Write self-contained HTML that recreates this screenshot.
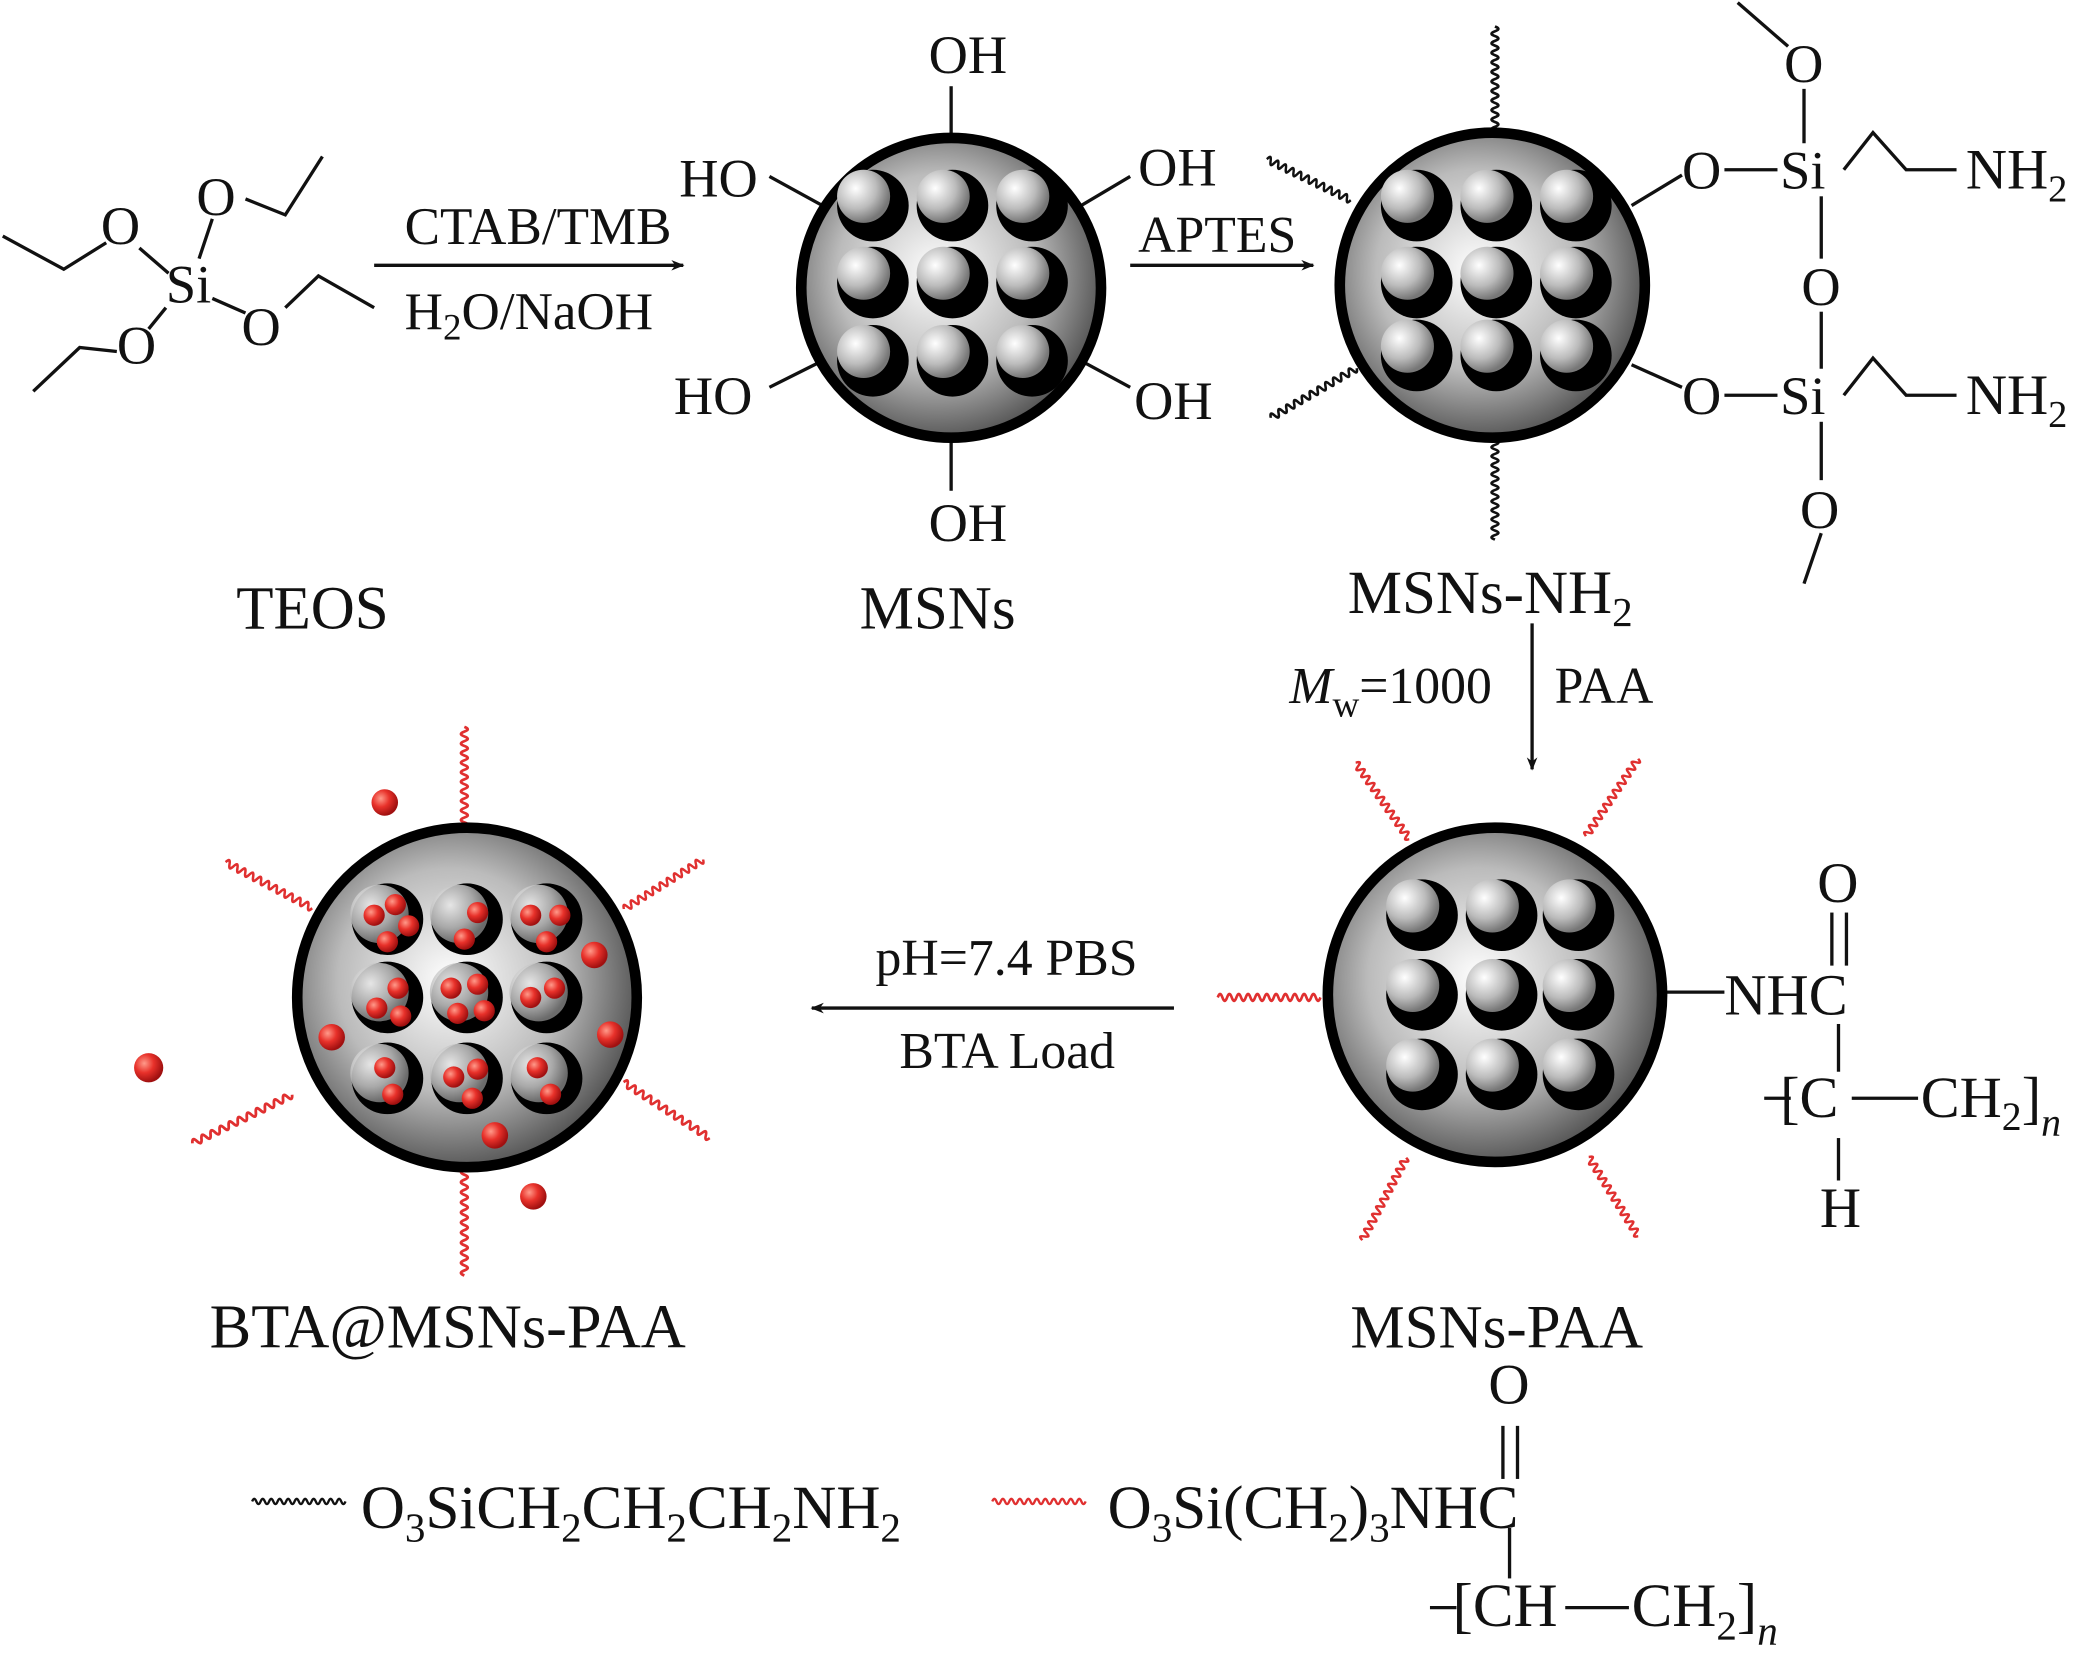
<!DOCTYPE html>
<html><head><meta charset="utf-8"><style>
html,body{margin:0;padding:0;background:#fff}
svg{display:block}
text{font-family:"Liberation Serif",serif;fill:#111}
</style></head><body>
<svg width="2080" height="1658" viewBox="0 0 1568 1250" xmlns="http://www.w3.org/2000/svg">
<defs>
<radialGradient id="sph" cx="45%" cy="45%" r="60%"><stop offset="0" stop-color="#fff"/><stop offset="0.55" stop-color="#bbb"/><stop offset="1" stop-color="#444"/></radialGradient>
<radialGradient id="ball" cx="35%" cy="35%" r="65%"><stop offset="0" stop-color="#fff"/><stop offset="0.6" stop-color="#bbb"/><stop offset="1" stop-color="#777"/></radialGradient>
<radialGradient id="red" cx="35%" cy="35%" r="65%"><stop offset="0" stop-color="#ff9a8a"/><stop offset="0.5" stop-color="#e8312a"/><stop offset="1" stop-color="#a01010"/></radialGradient>
<marker id="ar" viewBox="0 0 10 10" refX="9" refY="5" markerWidth="10" markerHeight="10" orient="auto" markerUnits="userSpaceOnUse"><path d="M0,1 L10,5 L0,9 L3,5z" fill="#111"/></marker>
<path id="w" d="M0 0 q2 -5 4 0 q2 5 4 0 q2 -5 4 0 q2 5 4 0 q2 -5 4 0 q2 5 4 0 q2 -5 4 0 q2 5 4 0 q2 -5 4 0 q2 5 4 0 q2 -5 4 0 q2 5 4 0 q2 -5 4 0 q2 5 4 0 q2 -5 4 0 q2 5 4 0 q2 -5 4 0 q2 5 4 0 q2 -5 4 0 q2 5 4 0 q2 -5 4 0 q2 5 4 0" fill="none" stroke-width="2.2"/>
<g id="pore"><circle r="27" fill="#000"/><circle cx="-7" cy="-7" r="20" fill="url(#ball)"/></g>
<g id="poreB"><circle r="27" fill="#000"/><circle cx="-6" cy="-4" r="22" fill="url(#ball)" opacity="0.9"/></g>
<circle id="rb" r="8" fill="url(#red)"/>
</defs>
<g stroke="#111" stroke-width="2.5" fill="none">
<path d="M2 178 L48 203 L80 183"/><path d="M105 187 L127 206"/>
<path d="M160 165 L150 195"/><path d="M185 150 L215 162 L243 118"/>
<path d="M160 225 L185 236"/><path d="M215 232 L240 208 L282 232"/>
<path d="M125 232 L112 248"/><path d="M88 265 L60 262 L25 295"/>
<line x1="282" y1="200" x2="515" y2="200" marker-end="url(#ar)"/>
<line x1="852" y1="200" x2="990" y2="200" marker-end="url(#ar)"/>
<line x1="1155" y1="470" x2="1155" y2="580" marker-end="url(#ar)"/>
<line x1="885" y1="760" x2="612" y2="760" marker-end="url(#ar)"/>
<line x1="717" y1="65" x2="717" y2="102"/><line x1="717" y1="332" x2="717" y2="370"/>
<line x1="580" y1="133" x2="620" y2="155"/><line x1="580" y1="292" x2="620" y2="272"/>
<line x1="852" y1="133" x2="815" y2="155"/><line x1="852" y1="292" x2="815" y2="272"/>
<path d="M1230 155 L1268 132"/><path d="M1230 275 L1268 292"/>
<line x1="1300" y1="128" x2="1340" y2="128"/><line x1="1300" y1="298" x2="1340" y2="298"/>
<path d="M1390 128 L1412 100 L1437 128 L1475 128"/><path d="M1390 298 L1412 270 L1437 298 L1475 298"/>
<line x1="1360" y1="67" x2="1360" y2="108"/><path d="M1310 2 L1348 35"/>
<line x1="1373" y1="148" x2="1373" y2="195"/><line x1="1373" y1="235" x2="1373" y2="278"/>
<line x1="1373" y1="318" x2="1373" y2="362"/><path d="M1373 402 L1360 440"/>
<line x1="1255" y1="748" x2="1300" y2="748"/>
<line x1="1381" y1="688" x2="1381" y2="728"/><line x1="1392" y1="688" x2="1392" y2="728"/>
<line x1="1386" y1="772" x2="1386" y2="808"/><line x1="1386" y1="858" x2="1386" y2="890"/>
<line x1="1330" y1="828" x2="1350" y2="828"/><line x1="1396" y1="828" x2="1446" y2="828"/>
<line x1="1133" y1="1075" x2="1133" y2="1115"/><line x1="1144" y1="1075" x2="1144" y2="1115"/>
<line x1="1138" y1="1152" x2="1138" y2="1190"/>
<line x1="1078" y1="1212" x2="1098" y2="1212"/><line x1="1180" y1="1212" x2="1228" y2="1212"/>
</g>
<g>
<use href="#w" transform="translate(1127,20) rotate(90) scale(0.9,1)" stroke="#111"/>
<use href="#w" transform="translate(1127,332) rotate(90) scale(0.85,1)" stroke="#111"/>
<use href="#w" transform="translate(955,120) rotate(26) scale(0.8,1)" stroke="#111"/>
<use href="#w" transform="translate(958,315) rotate(-30) scale(0.85,1)" stroke="#111"/>
<use href="#w" transform="translate(190,1132) scale(0.8,0.8)" stroke="#111"/>
</g>
<g>
<use href="#w" transform="translate(1022,575) rotate(55) scale(0.8,1)" stroke="#e03030"/>
<use href="#w" transform="translate(1235,572) rotate(124) scale(0.8,1)" stroke="#e03030"/>
<use href="#w" transform="translate(918,752) scale(0.88,1)" stroke="#e03030"/>
<use href="#w" transform="translate(1027,935) rotate(-62) scale(0.8,1)" stroke="#e03030"/>
<use href="#w" transform="translate(1235,932) rotate(-122) scale(0.8,1)" stroke="#e03030"/>
<use href="#w" transform="translate(350,548) rotate(90) scale(0.9,1)" stroke="#e03030"/>
<use href="#w" transform="translate(350,878) rotate(90) scale(0.95,1)" stroke="#e03030"/>
<use href="#w" transform="translate(170,650) rotate(28) scale(0.84,1)" stroke="#e03030"/>
<use href="#w" transform="translate(530,648) rotate(148) scale(0.8,1)" stroke="#e03030"/>
<use href="#w" transform="translate(145,862) rotate(-26) scale(0.95,1)" stroke="#e03030"/>
<use href="#w" transform="translate(535,858) rotate(-147) scale(0.88,1)" stroke="#e03030"/>
<use href="#w" transform="translate(748,1132) scale(0.8,0.8)" stroke="#e03030"/>
</g>
<circle cx="717" cy="217" r="113" fill="url(#sph)" stroke="#000" stroke-width="8"/>
<circle cx="1125" cy="215" r="115" fill="url(#sph)" stroke="#000" stroke-width="8"/>
<circle cx="1127" cy="750" r="126" fill="url(#sph)" stroke="#000" stroke-width="8"/>
<circle cx="352" cy="752" r="128" fill="url(#sph)" stroke="#000" stroke-width="8"/>
<g>
<use href="#pore" x="658" y="155"/><use href="#pore" x="718" y="155"/><use href="#pore" x="778" y="155"/>
<use href="#pore" x="658" y="213"/><use href="#pore" x="718" y="213"/><use href="#pore" x="778" y="213"/>
<use href="#pore" x="658" y="272"/><use href="#pore" x="718" y="272"/><use href="#pore" x="778" y="272"/>
<use href="#pore" x="1068" y="155"/><use href="#pore" x="1128" y="155"/><use href="#pore" x="1188" y="155"/>
<use href="#pore" x="1068" y="213"/><use href="#pore" x="1128" y="213"/><use href="#pore" x="1188" y="213"/>
<use href="#pore" x="1068" y="268"/><use href="#pore" x="1128" y="268"/><use href="#pore" x="1188" y="268"/>
<use href="#pore" x="1072" y="690"/><use href="#pore" x="1132" y="690"/><use href="#pore" x="1190" y="690"/>
<use href="#pore" x="1072" y="750"/><use href="#pore" x="1132" y="750"/><use href="#pore" x="1190" y="750"/>
<use href="#pore" x="1072" y="810"/><use href="#pore" x="1132" y="810"/><use href="#pore" x="1190" y="810"/>
<use href="#poreB" x="292" y="693"/><use href="#poreB" x="352" y="693"/><use href="#poreB" x="412" y="693"/>
<use href="#poreB" x="292" y="752"/><use href="#poreB" x="352" y="752"/><use href="#poreB" x="412" y="752"/>
<use href="#poreB" x="292" y="813"/><use href="#poreB" x="352" y="813"/><use href="#poreB" x="412" y="813"/>
</g>
<g>
<use href="#rb" x="282" y="690"/><use href="#rb" x="298" y="682"/><use href="#rb" x="308" y="698"/><use href="#rb" x="292" y="710"/>
<use href="#rb" x="360" y="688"/><use href="#rb" x="350" y="708"/>
<use href="#rb" x="400" y="690"/><use href="#rb" x="422" y="690"/><use href="#rb" x="412" y="710"/>
<use href="#rb" x="300" y="745"/><use href="#rb" x="284" y="760"/><use href="#rb" x="302" y="766"/>
<use href="#rb" x="340" y="745"/><use href="#rb" x="360" y="742"/><use href="#rb" x="345" y="764"/><use href="#rb" x="365" y="762"/>
<use href="#rb" x="418" y="745"/><use href="#rb" x="400" y="752"/>
<use href="#rb" x="290" y="805"/><use href="#rb" x="296" y="825"/>
<use href="#rb" x="342" y="812"/><use href="#rb" x="360" y="806"/><use href="#rb" x="356" y="828"/>
<use href="#rb" x="405" y="805"/><use href="#rb" x="415" y="825"/>
<circle cx="290" cy="605" r="10" fill="url(#red)"/><circle cx="112" cy="805" r="11" fill="url(#red)"/>
<circle cx="402" cy="902" r="10" fill="url(#red)"/><circle cx="373" cy="856" r="10" fill="url(#red)"/>
<circle cx="460" cy="780" r="10" fill="url(#red)"/><circle cx="448" cy="720" r="10" fill="url(#red)"/>
<circle cx="250" cy="782" r="10" fill="url(#red)"/>
</g>
<g font-size="41">
<text x="76" y="184">O</text><text x="148" y="162">O</text><text x="125" y="228">Si</text>
<text x="182" y="260">O</text><text x="88" y="274">O</text>
<text x="178" y="474" font-size="46">TEOS</text>
<text x="305" y="184" font-size="40">CTAB/TMB</text>
<text x="305" y="248" font-size="40">H<tspan font-size="28" dy="8">2</tspan><tspan dy="-8">O/NaOH</tspan></text>
<text x="700" y="55">OH</text><text x="700" y="408">OH</text>
<text x="512" y="148">HO</text><text x="508" y="312">HO</text>
<text x="858" y="140">OH</text><text x="855" y="316">OH</text>
<text x="648" y="474" font-size="46">MSNs</text>
<text x="858" y="190" font-size="39">APTES</text>
<text x="1268" y="142">O</text><text x="1268" y="312">O</text>
<text x="1342" y="142">Si</text><text x="1342" y="312">Si</text>
<text x="1345" y="62">O</text><text x="1358" y="230">O</text><text x="1357" y="398">O</text>
<text x="1482" y="142" font-size="43">NH<tspan font-size="29" dy="10">2</tspan></text>
<text x="1482" y="312" font-size="43">NH<tspan font-size="29" dy="10">2</tspan></text>
<text x="1016" y="462" font-size="46">MSNs-NH<tspan font-size="31" dy="10">2</tspan></text>
<text x="972" y="530" font-size="39"><tspan font-style="italic">M</tspan><tspan font-size="28" dy="10">w</tspan><tspan dy="-10">=1000</tspan></text>
<text x="1172" y="530" font-size="39">PAA</text>
<text x="1370" y="680" font-size="43">O</text>
<text x="1300" y="765" font-size="44">NHC</text>
<text x="1342" y="842" font-size="44">[C</text>
<text x="1448" y="842" font-size="44">CH<tspan font-size="30" dy="10">2</tspan><tspan dy="-10">]</tspan><tspan font-size="30" font-style="italic" dy="14">n</tspan></text>
<text x="1372" y="925" font-size="43">H</text>
<text x="1018" y="1016" font-size="46">MSNs-PAA</text>
<text x="660" y="735" font-size="39">pH=7.4 PBS</text>
<text x="678" y="805" font-size="39">BTA Load</text>
<text x="158" y="1016" font-size="47">BTA@MSNs-PAA</text>
<text x="272" y="1152" font-size="46">O<tspan font-size="31" dy="10">3</tspan><tspan dy="-10">SiCH</tspan><tspan font-size="31" dy="10">2</tspan><tspan dy="-10">CH</tspan><tspan font-size="31" dy="10">2</tspan><tspan dy="-10">CH</tspan><tspan font-size="31" dy="10">2</tspan><tspan dy="-10">NH</tspan><tspan font-size="31" dy="10">2</tspan></text>
<text x="835" y="1152" font-size="46">O<tspan font-size="31" dy="10">3</tspan><tspan dy="-10">Si(CH</tspan><tspan font-size="31" dy="10">2</tspan><tspan dy="-10">)</tspan><tspan font-size="31" dy="10">3</tspan><tspan dy="-10">NHC</tspan></text>
<text x="1122" y="1058" font-size="43">O</text>
<text x="1095" y="1226" font-size="46">[CH</text>
<text x="1230" y="1226" font-size="46">CH<tspan font-size="31" dy="10">2</tspan><tspan dy="-10">]</tspan><tspan font-size="31" font-style="italic" dy="14">n</tspan></text>
</g>
</svg>
</body></html>
